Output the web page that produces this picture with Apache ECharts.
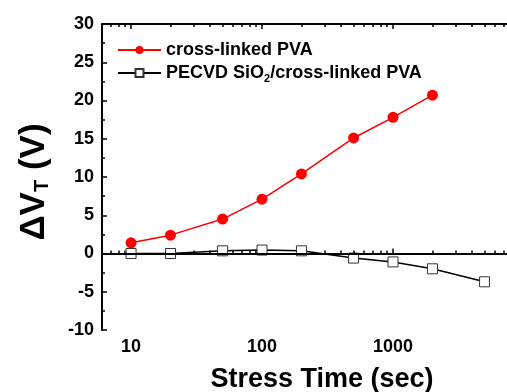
<!DOCTYPE html>
<html>
<head>
<meta charset="utf-8">
<script src="https://cdn.jsdelivr.net/npm/echarts@6/dist/echarts.min.js"></script>
<style>
html,body{margin:0;padding:0;background:#fff;}
#chart{width:507px;height:392px;}
</style>
</head>
<body>
<div id="chart"></div>
<script>
// Data
var pvaTimes = [10, 20, 50, 100, 200, 500, 1000, 2000];
var pvaShift = [1.4, 2.4, 4.5, 7.1, 10.4, 15.1, 17.8, 20.7];
var sioTimes = [10, 20, 50, 100, 200, 500, 1000, 2000, 5000];
var sioShift = [0.0, 0.0, 0.35, 0.45, 0.35, -0.6, -1.1, -2.0, -3.7];
var xMajorTicks = [10, 100, 1000];
var xMinorTicks = [7, 8, 9, 20, 30, 40, 50, 60, 70, 80, 90, 200, 300, 400, 500, 600, 700, 800, 900, 2000, 3000, 4000, 5000, 6000, 7000, 8000, 9000];
var seriesNames = ['cross-linked PVA', 'PECVD SiO2/cross-linked PVA'];

function pairs(xs, ys) { return xs.map(function (x, i) { return [x, ys[i]]; }); }

var FONT = "'Liberation Sans', Arial, sans-serif";
var gridBox = { left: 102, top: 24, width: 422, height: 306, containLabel: false, outerBoundsMode: 'none' };
var axisLine = { show: true, lineStyle: { color: '#000', width: 2 } };

var chart = echarts.init(document.getElementById('chart'), null, { renderer: 'canvas' });
chart.setOption({
  animation: false,
  backgroundColor: '#fff',
  grid: [
    Object.assign({}, gridBox),
    Object.assign({}, gridBox)
  ],
  legend: {
    left: 117, top: 41, orient: 'vertical', padding: 0,
    itemWidth: 43, itemHeight: 10, itemGap: 5,
    textStyle: {
      fontFamily: FONT, fontSize: 18, fontWeight: 'bold', color: '#000',
      rich: { sub: { fontFamily: FONT, fontSize: 11, fontWeight: 'bold', color: '#000', padding: [12, 0, 0, 0] } }
    },
    formatter: function (n) { return n === seriesNames[1] ? 'PECVD SiO{sub|2}/cross-linked PVA' : n; },
    data: seriesNames
  },
  xAxis: [
    {
      gridIndex: 0, type: 'log', position: 'bottom', min: 6, max: 10000,
      axisLine: axisLine,
      axisTick: { show: true, inside: true, length: 5, customValues: xMajorTicks, lineStyle: { color: '#000', width: 1.5 } },
      axisLabel: { customValues: xMajorTicks, margin: 8, fontFamily: FONT, fontSize: 18, fontWeight: 'bold', color: '#000',
        formatter: function (v) { return String(v); } },
      splitLine: { show: false }, minorTick: { show: false },
      name: 'Stress Time (sec)', nameLocation: 'middle', nameGap: 36,
      nameTextStyle: { fontFamily: FONT, fontSize: 27, fontWeight: 'bold', color: '#000', padding: [0, 0, 0, 18] }
    },
    {
      gridIndex: 0, type: 'log', position: 'top', min: 6, max: 10000,
      axisLine: axisLine,
      axisTick: { show: true, inside: true, length: 5, customValues: xMajorTicks, lineStyle: { color: '#000', width: 1.5 } },
      axisLabel: { show: false }, splitLine: { show: false }
    },
    {
      gridIndex: 1, type: 'log', position: 'bottom', min: 6, max: 10000,
      axisLine: { show: false },
      axisTick: { show: true, inside: true, length: 3, customValues: xMinorTicks, lineStyle: { color: '#000', width: 1.5 } },
      axisLabel: { show: false }, splitLine: { show: false }
    },
    {
      gridIndex: 1, type: 'log', position: 'top', min: 6, max: 10000,
      axisLine: { show: false },
      axisTick: { show: true, inside: true, length: 3, customValues: xMinorTicks, lineStyle: { color: '#000', width: 1.5 } },
      axisLabel: { show: false }, splitLine: { show: false }
    }
  ],
  yAxis: [
    {
      gridIndex: 0, type: 'value', min: -10, max: 30, interval: 5, position: 'left',
      axisLine: axisLine,
      axisTick: { show: true, inside: true, length: 5, lineStyle: { color: '#000', width: 1.5 } },
      minorTick: { show: true, splitNumber: 2, length: 3, lineStyle: { color: '#000', width: 1.5 } },
      axisLabel: { margin: 8, fontFamily: FONT, fontSize: 18, fontWeight: 'bold', color: '#000' },
      splitLine: { show: false },
      name: '{a|ΔV}{sub|T}{a| (V)}', nameLocation: 'middle', nameRotate: 90, nameGap: 50,
      nameTextStyle: {
        padding: [0, 10, 0, 0],
        rich: {
          a: { fontFamily: FONT, fontSize: 35, fontWeight: 'bold', color: '#000' },
          sub: { fontFamily: FONT, fontSize: 20, fontWeight: 'bold', color: '#000', padding: [16, 0, 0, 0] }
        }
      }
    },
    { gridIndex: 1, type: 'value', min: -10, max: 30, show: false }
  ],
  series: [
    {
      name: seriesNames[0], type: 'line', xAxisIndex: 0, yAxisIndex: 0,
      data: pairs(pvaTimes, pvaShift),
      symbol: 'circle', symbolSize: 11,
      itemStyle: { color: '#ff0000' },
      lineStyle: { color: '#ff0000', width: 1.5 },
      z: 5
    },
    {
      name: seriesNames[1], type: 'line', xAxisIndex: 0, yAxisIndex: 0,
      data: pairs(sioTimes, sioShift),
      symbol: 'rect', symbolSize: 10,
      itemStyle: { color: '#ffffff', borderColor: '#333', borderWidth: 1 },
      lineStyle: { color: '#000', width: 1.5 },
      markLine: {
        silent: true, symbol: 'none', label: { show: false },
        lineStyle: { color: '#000', width: 2, type: 'solid' },
        data: [{ yAxis: 0 }]
      },
      z: 4
    }
  ]
});
</script>
</body>
</html>
